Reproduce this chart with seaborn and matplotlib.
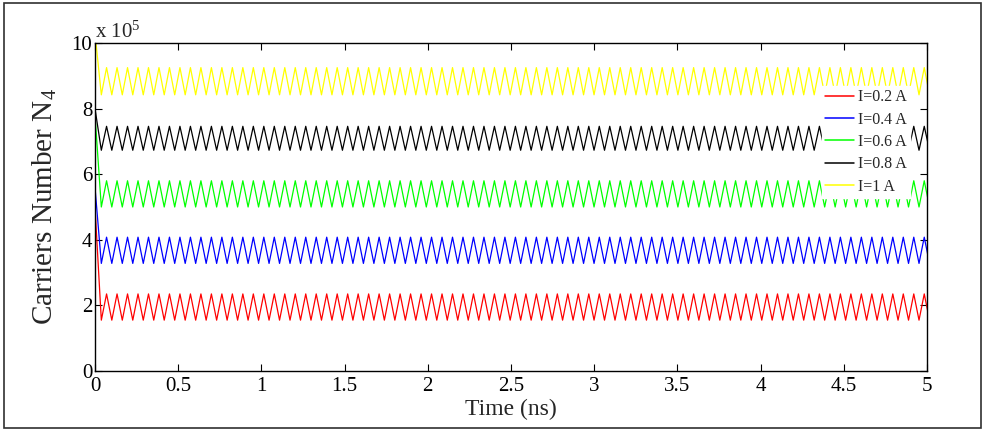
import numpy as np
import pandas as pd
import seaborn as sns
import matplotlib.pyplot as plt
from matplotlib.patches import Rectangle

# carriers number N4 (in units of 1e5), one entry per current
currents = ['I=0.2 A', 'I=0.4 A', 'I=0.6 A', 'I=0.8 A', 'I=1 A']
colors = ['#ff0000', '#0000ff', '#00ff00', '#000000', '#ffff00']
start_level = [5.0, 5.6, 7.8, 8.0, 10.3]     # value at t = 0
peak_level = [2.35, 4.08, 5.80, 7.46, 9.25]  # top of each oscillation
trough_level = [1.55, 3.28, 5.00, 6.73, 8.42]  # bottom of each oscillation
period_ns = 0.063        # ~16 cycles per ns
first_trough_ns = 0.038  # first minimum after the start transient
t_end = 5.0

frames = []
for name, s0, pk, tr in zip(currents, start_level, peak_level, trough_level):
    t_ext = np.arange(first_trough_ns, t_end + period_ns, period_ns / 2)
    y_ext = np.where(np.arange(len(t_ext)) % 2 == 0, tr, pk)
    frames.append(pd.DataFrame({'t': np.concatenate([[0.0], t_ext]),
                                'N': np.concatenate([[s0], y_ext]),
                                'current': name}))
df = pd.concat(frames, ignore_index=True)

sns.set_style('ticks')
plt.rcParams['font.family'] = ['Liberation Serif', 'DejaVu Serif']
plt.rcParams['mathtext.default'] = 'regular'

fig = plt.figure(figsize=(9.83, 4.30), dpi=100)
ax = fig.add_axes([95 / 983, 59 / 430, 832 / 983, 328 / 430])

sns.lineplot(data=df, x='t', y='N', hue='current', hue_order=currents,
             palette=dict(zip(currents, colors)), estimator=None, sort=False,
             linewidth=0.9, ax=ax, legend=False)

ax.set_xlim(0, 5)
ax.set_ylim(0, 10)
ax.set_xticks(np.arange(0, 5.01, 0.5))
ax.set_xticklabels(['0', '0.5', '1', '1.5', '2', '2.5', '3', '3.5', '4', '4.5', '5'])
ax.set_yticks(np.arange(0, 10.1, 2))
ax.set_yticklabels(['0', '2', '4', '6', '8', '10'])
ax.tick_params(direction='in', top=True, right=True, length=5, width=0.8,
               labelsize=15, colors='black')
ax.tick_params(axis='x', pad=4)
ax.tick_params(axis='y', pad=2)
for sp in ax.spines.values():
    sp.set_visible(True)
    sp.set_linewidth(1.0)
    sp.set_color('black')

ax.set_xlabel('Time (ns)', fontsize=17)
ax.set_ylabel('Carriers Number N$_4$', fontsize=21)
ax.xaxis.set_label_coords(0.5, -0.085)
ax.yaxis.set_label_coords(-0.043, 0.5)

ax.text(0.0, 1.015, 'x 10$^5$', transform=ax.transAxes, fontsize=15,
        ha='left', va='baseline')

handles = [plt.Line2D([], [], color=c, lw=1.1) for c in colors]
leg = ax.legend(handles, currents, loc='upper left', bbox_to_anchor=(0.874, 0.869),
                borderaxespad=0, fontsize=11.5, frameon=True, fancybox=False,
                framealpha=1, facecolor='white', edgecolor='white',
                handlelength=1.8, handletextpad=0.25, labelspacing=0.4,
                borderpad=0.2)

# outer figure border
fig.patches.append(Rectangle((4 / 983, 2 / 430), 977 / 983, 425 / 430,
                             transform=fig.transFigure, fill=False,
                             edgecolor='#303030', linewidth=1.2))

fig.savefig('out.png', dpi=100)
